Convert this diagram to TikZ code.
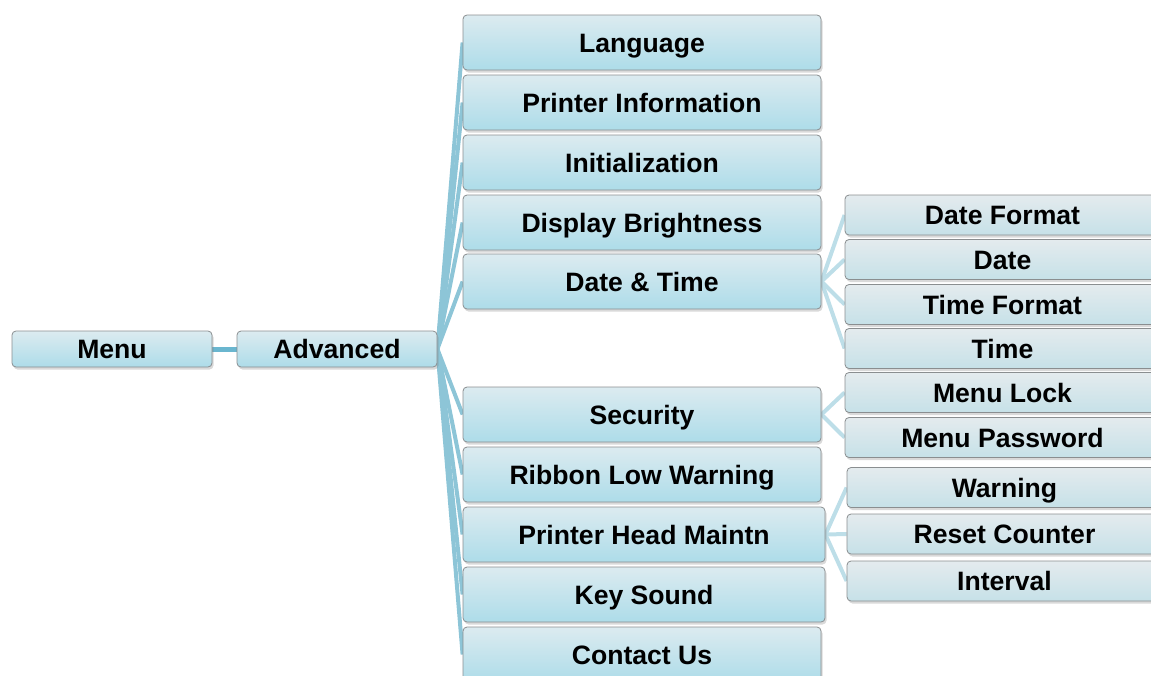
\documentclass[tikz,border=0pt]{standalone}
\usepackage{fontspec}
\setmainfont{Liberation Sans}
\usepackage{xcolor}
\usepackage{tikz}
\usetikzlibrary{shadows,backgrounds}

\definecolor{boxline}{HTML}{8A8E90}
\definecolor{topblue}{HTML}{DCEBF0}
\definecolor{botblue}{HTML}{ADDCE9}
\definecolor{topgray}{HTML}{E4EBEE}
\definecolor{botgray}{HTML}{C6E1E8}
\definecolor{linkdark}{HTML}{6AB6CF}
\definecolor{linkmid}{HTML}{8DC5D7}
\definecolor{linklight}{HTML}{BDDEE8}

\tikzset{
  menubox/.style={draw=boxline, line width=0.8pt, rounded corners=4pt,
    top color=topblue, bottom color=botblue, inner sep=0pt,
    minimum height=#1, text height=19pt, text depth=0pt,
    font=\bfseries\fontsize{26.6}{30}\selectfont,
    drop shadow={opacity=0.3, shadow xshift=1.5pt, shadow yshift=-2.5pt}},
  topbox/.style={menubox=36pt, minimum width=200pt},
  midbox/.style={menubox=55pt, minimum width=#1},
  midbox/.default=358pt,
  subbox/.style={menubox=40pt, minimum width=315pt,
    top color=topgray, bottom color=botgray},
  linkA/.style={draw=linkdark, line width=5pt},
  linkB/.style={draw=linkmid, line width=4pt},
  linkC/.style={draw=linklight, line width=4pt}
}

\begin{document}
\begin{tikzpicture}[x=1pt,y=-1pt]
\useasboundingbox (0,0) rectangle (1151,675);

% first level
\node[topbox] (menu) at (112,349) {Menu};
\node[topbox] (adv) at (337,349) {Advanced};

% second level
\node[midbox] (lang) at (642,42.5) {Language};
\node[midbox] (info) at (642,102.5) {Printer Information};
\node[midbox] (init) at (642,162.5) {Initialization};
\node[midbox] (bright) at (642,222.5) {Display Brightness};
\node[midbox] (dt) at (642,281.5) {Date \& Time};
\node[midbox] (sec) at (642,414.5) {Security};
\node[midbox] (ribbon) at (642,474.5) {Ribbon Low Warning};
\node[midbox=362pt] (head) at (644,534.5) {Printer Head Maintn};
\node[midbox=362pt] (sound) at (644,594.5) {Key Sound};
\node[midbox] (contact) at (642,654.5) {Contact Us};

% third level
\node[subbox] (dfmt) at (1002.5,215) {Date Format};
\node[subbox] (date) at (1002.5,259.5) {Date};
\node[subbox] (tfmt) at (1002.5,304.5) {Time Format};
\node[subbox] (time) at (1002.5,348.5) {Time};
\node[subbox] (lock) at (1002.5,392.5) {Menu Lock};
\node[subbox] (pass) at (1002.5,437.5) {Menu Password};
\node[subbox] (warn) at (1004.5,487.5) {Warning};
\node[subbox] (reset) at (1004.5,534) {Reset Counter};
\node[subbox] (interval) at (1004.5,581) {Interval};

% connectors
\begin{scope}[on background layer]
\draw[linkA] (menu.east) -- (adv.west);
\foreach \n in {lang,info,init,bright,dt,sec,ribbon,head,sound,contact}
  \draw[linkB] (adv.east) -- (\n.west);
\foreach \n in {dfmt,date,tfmt,time}
  \draw[linkC] (dt.east) -- (\n.west);
\foreach \n in {lock,pass}
  \draw[linkC] (sec.east) -- (\n.west);
\foreach \n in {warn,reset,interval}
  \draw[linkC] (head.east) -- (\n.west);
\end{scope}
\end{tikzpicture}
\end{document}
